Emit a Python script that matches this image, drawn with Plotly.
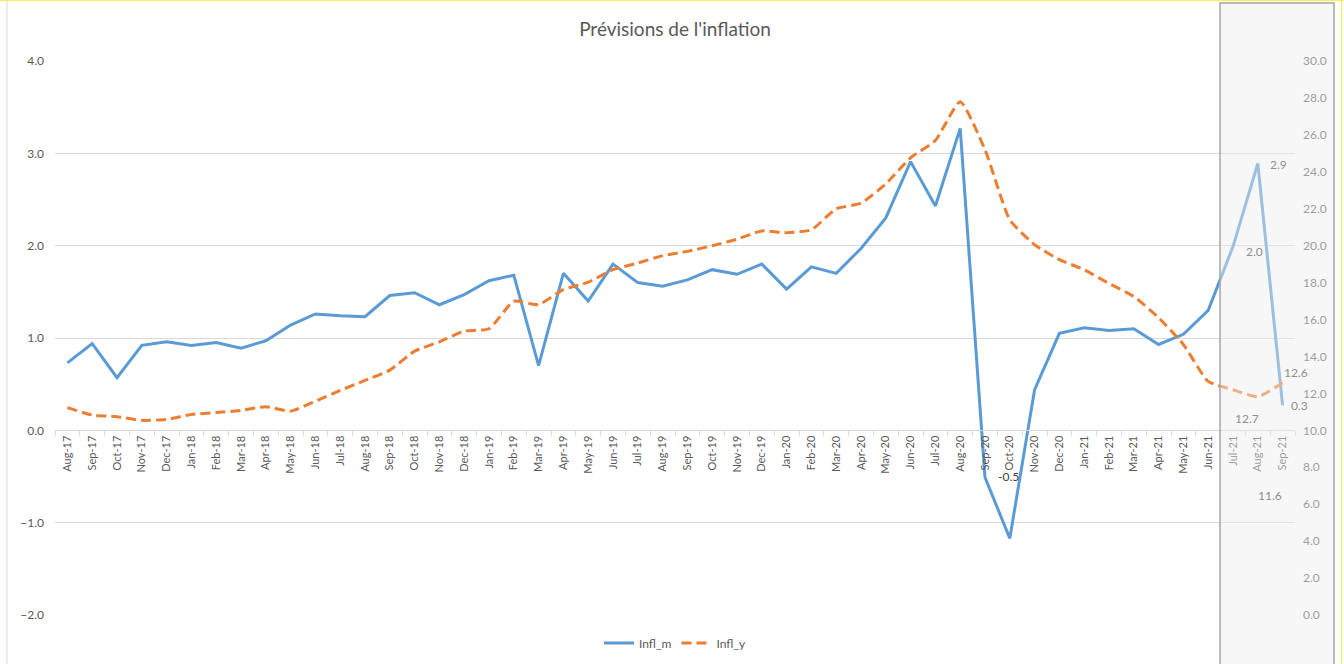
import plotly.graph_objects as go

months = ["Aug-17", "Sep-17", "Oct-17", "Nov-17", "Dec-17",
          "Jan-18", "Feb-18", "Mar-18", "Apr-18", "May-18", "Jun-18", "Jul-18", "Aug-18",
          "Sep-18", "Oct-18", "Nov-18", "Dec-18",
          "Jan-19", "Feb-19", "Mar-19", "Apr-19", "May-19", "Jun-19", "Jul-19", "Aug-19",
          "Sep-19", "Oct-19", "Nov-19", "Dec-19",
          "Jan-20", "Feb-20", "Mar-20", "Apr-20", "May-20", "Jun-20", "Jul-20", "Aug-20",
          "Sep-20", "Oct-20", "Nov-20", "Dec-20",
          "Jan-21", "Feb-21", "Mar-21", "Apr-21", "May-21", "Jun-21", "Jul-21", "Aug-21", "Sep-21"]

infl_m = [0.73, 0.94, 0.57, 0.92, 0.96,
          0.92, 0.95, 0.89, 0.97, 1.14, 1.26, 1.24, 1.23, 1.46, 1.49, 1.36, 1.47,
          1.62, 1.68, 0.70, 1.70, 1.40, 1.80, 1.60, 1.56, 1.63, 1.74, 1.69, 1.80,
          1.53, 1.77, 1.70, 1.97, 2.30, 2.91, 2.43, 3.27, -0.51, -1.17, 0.44, 1.05,
          1.11, 1.08, 1.10, 0.93, 1.04, 1.30, 1.99, 2.89, 0.27]

infl_y = [11.23, 10.83, 10.74, 10.54, 10.59,
          10.86, 10.96, 11.08, 11.28, 11.04, 11.58, 12.16, 12.70, 13.26, 14.29, 14.79, 15.37,
          15.50, 16.99, 16.81, 17.62, 18.02, 18.70, 19.06, 19.46, 19.69, 20.00, 20.35, 20.80,
          20.70, 20.86, 22.00, 22.30, 23.35, 24.76, 25.70, 27.80, 25.20, 21.40, 20.05, 19.24,
          18.70, 17.95, 17.25, 16.10, 14.65, 12.65, 12.20, 11.82, 12.58]

# data labels shown on the chart
labels_m_months = ["Sep-20", "Jul-21", "Aug-21", "Sep-21"]
labels_y_months = ["Jul-21", "Aug-21", "Sep-21"]
labels_y_values = [12.7, 11.6, 12.6]

FONT = "Lato"
GREY = "#595959"

fig = go.Figure()
fig.add_trace(go.Scatter(x=months, y=infl_m, name="Infl_m", mode="lines",
                         line=dict(color="#5B9BD5", width=3), yaxis="y"))
fig.add_trace(go.Scatter(x=months, y=infl_y, name="Infl_y", mode="lines",
                         line=dict(color="#ED7D31", width=3, dash="10px,5px",
                                   shape="spline", smoothing=0.5), yaxis="y2"))

annotations = []
m_shift = {"Sep-20": (23, 1, "#404040"), "Jul-21": (21, -5, "#8e8e8e"),
           "Aug-21": (21, -1, "#8e8e8e"), "Sep-21": (17, 0, "#8e8e8e")}
for mo in labels_m_months:
    i = months.index(mo)
    dx, dy, col = m_shift[mo]
    annotations.append(dict(x=mo, y=infl_m[i], xref="x", yref="y", text=f"{infl_m[i]:.1f}",
                            showarrow=False, xshift=dx, yshift=dy,
                            font=dict(family=FONT, size=12, color=col)))
y_shift = {"Jul-21": (14, -29), "Aug-21": (12, -99), "Sep-21": (13, 10)}
for mo, val in zip(labels_y_months, labels_y_values):
    i = months.index(mo)
    dx, dy = y_shift[mo]
    annotations.append(dict(x=mo, y=infl_y[i], xref="x", yref="y2", text=f"{val:.1f}",
                            showarrow=False, xshift=dx, yshift=dy,
                            font=dict(family=FONT, size=12, color="#8e8e8e")))

L, R, T, B = 55, 49, 61, 49
W, H = 1344, 664
pw, ph = W - L - R, H - T - B


def px_x(p):
    return (p - L) / pw


def px_y(p):
    return (H - B - p) / ph


shapes = [
    # forecast overlay box
    dict(type="rect", xref="paper", yref="paper", x0=px_x(1220), x1=px_x(1334),
         y0=px_y(700), y1=px_y(3), fillcolor="rgba(237,237,237,0.45)",
         line=dict(color="#A6A6A6", width=1.5), layer="above"),
    # chart border left
    dict(type="line", xref="paper", yref="paper", x0=px_x(7), x1=px_x(7),
         y0=px_y(700), y1=px_y(0), line=dict(color="#D9D9D9", width=1)),
    # selection highlight
    dict(type="line", xref="paper", yref="paper", x0=px_x(0), x1=px_x(1344),
         y0=px_y(0.5), y1=px_y(0.5), line=dict(color="#F3EE72", width=1.5)),
    dict(type="line", xref="paper", yref="paper", x0=px_x(1341.5), x1=px_x(1341.5),
         y0=px_y(700), y1=px_y(0), line=dict(color="#F3EE72", width=1.5)),
]

fig.update_layout(
    width=W, height=H,
    margin=dict(l=L, r=R, t=T, b=B, autoexpand=False),
    paper_bgcolor="white", plot_bgcolor="white",
    font=dict(family=FONT, color=GREY),
    title=dict(text="Prévisions de l'inflation", x=0.5, xref="paper", xanchor="center",
               y=1 - 29 / H, yanchor="middle",
               font=dict(family=FONT, size=19, color=GREY)),
    xaxis=dict(type="category", categoryorder="array", categoryarray=months,
               range=[-0.5, len(months) - 0.5],
               anchor="free", position=1 / 3,
               showline=True, linecolor="#D9D9D9", linewidth=1,
               ticks="outside", tickson="boundaries", ticklen=5, tickcolor="#D9D9D9",
               tickangle=-90, tickfont=dict(family=FONT, size=11, color=GREY),
               showgrid=False, zeroline=False),
    yaxis=dict(range=[-2, 4], dtick=1, tick0=0, tickformat=".1f",
               showgrid=True, gridcolor="#D9D9D9", gridwidth=1,
               zeroline=False, showline=False, ticks="",
               ticklabelstandoff=10,
               tickfont=dict(family=FONT, size=12, color=GREY)),
    yaxis2=dict(range=[0, 30], dtick=2, tick0=0, tickformat=".1f", overlaying="y",
                side="right", showgrid=False, zeroline=False, showline=False, ticks="",
                ticklabelstandoff=7,
                tickfont=dict(family=FONT, size=12, color=GREY)),
    legend=dict(orientation="h", x=0.5, xanchor="center", y=px_y(643), yanchor="middle",
                font=dict(family=FONT, size=12, color=GREY), bgcolor="rgba(0,0,0,0)"),
    annotations=annotations,
    shapes=shapes,
)

fig.write_html("out.html", config={"displayModeBar": False},
               post_script="document.body.style.margin='0';document.body.style.overflow='hidden';")
